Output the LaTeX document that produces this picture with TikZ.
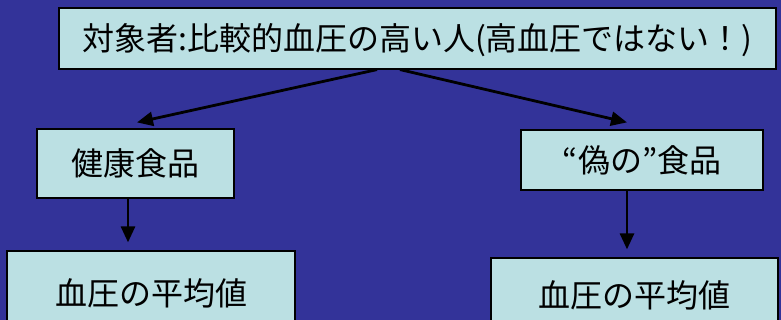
\documentclass[tikz,border=0pt]{standalone}
\usepackage{fontspec}
\setmainfont{Noto Sans CJK JP}
\usetikzlibrary{arrows.meta,calc}
\definecolor{bgblue}{RGB}{51,51,153}
\definecolor{boxfill}{RGB}{187,224,227}
\tikzset{
  box/.style={draw=black, line width=1.2pt, fill=boxfill, inner sep=0pt, font=\fontsize{32}{34}\selectfont, text=black},
  conn/.style={line width=2.8pt, -{Triangle[length=16pt,width=14pt]}}
}
\begin{document}
\begin{tikzpicture}[x=1pt,y=1pt]
\fill[bgblue] (0,0) rectangle (781,320);
\useasboundingbox (0,0) rectangle (781,320);
\clip (0,0) rectangle (781,320);
\node[box, minimum width=717pt, minimum height=61pt, text depth=0.3em] (top) at (417.5,281.5) {対象者:比較的血圧の高い人(高血圧ではない！)};
\node[box, minimum width=197pt, minimum height=69pt] (lmid) at (135.5,156.5) {健康食品};
\node[box, minimum width=242pt, minimum height=60pt] (rmid) at (642,160) {“偽の”食品};
\node[box, minimum width=288pt, minimum height=84pt] (lbot) at (151,27) {血圧の平均値};
\node[box, minimum width=287pt, minimum height=74pt] (rbot) at (634.5,25) {血圧の平均値};
\coordinate (ls) at ($(top.south)+(-40.5,0)$);
\coordinate (rs) at ($(top.south)+(-17.5,0)$);
\coordinate (lt) at ($(lmid.north)+(1.5,6)$);
\coordinate (rt) at ($(rmid.north)+(-15,7)$);
\draw[conn] (ls) -- (lt);
\draw[conn] (rs) -- (rt);
\coordinate (lv) at ($(lmid.south)+(-7.5,0)$);
\coordinate (lvt) at ($(lbot.north)+(-23,8)$);
\draw[conn] (lv) -- (lvt);
\coordinate (rv) at ($(rmid.south)+(-15,0)$);
\coordinate (rvt) at ($(rbot.north)+(-7.5,8)$);
\draw[conn] (rv) -- (rvt);
\end{tikzpicture}
\end{document}
